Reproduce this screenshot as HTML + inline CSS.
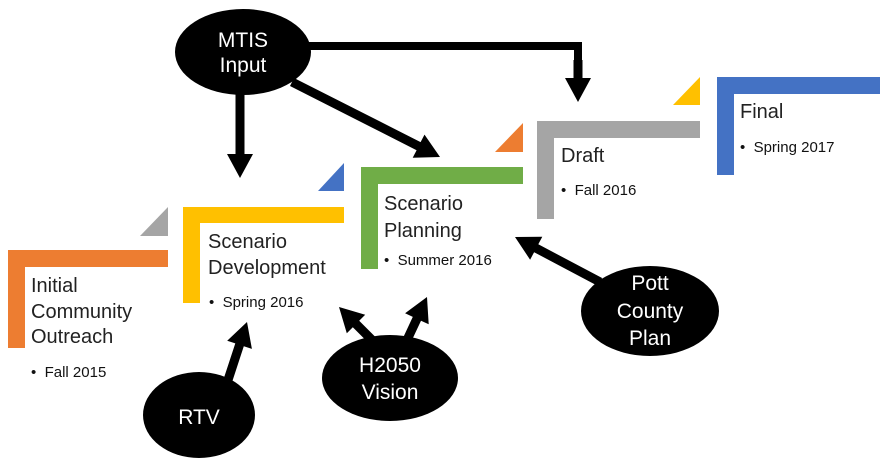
<!DOCTYPE html>
<html><head><meta charset="utf-8"><style>
html,body{margin:0;padding:0;background:#fff;}
svg{display:block;}
.t{font-family:"Liberation Sans",sans-serif;font-size:20px;fill:#222;}
.b{font-family:"Liberation Sans",sans-serif;font-size:15px;fill:#111;}
.w{font-family:"Liberation Sans",sans-serif;font-size:21px;fill:#fff;text-anchor:middle;}
</style></head><body>
<svg id="s" width="880" height="465" viewBox="0 0 880 465" xmlns="http://www.w3.org/2000/svg">
<path d="M8,250 H168 V267 H25 V348 H8 z" fill="#ED7D31"/>
<path d="M168,207 V236 H140 z" fill="#A5A5A5"/>
<path d="M183,207 H344 V223 H200 V303 H183 z" fill="#FFC000"/>
<path d="M344,163 V191 H318 z" fill="#4472C4"/>
<path d="M361,167 H523 V184 H378 V269 H361 z" fill="#70AD47"/>
<path d="M523,123 V152 H495 z" fill="#ED7D31"/>
<path d="M537,121 H700 V138 H554 V219 H537 z" fill="#A5A5A5"/>
<path d="M700,77 V105 H673 z" fill="#FFC000"/>
<path d="M717,77 H880 V94 H734 V175 H717 z" fill="#4472C4"/>

<text class="t" x="31" y="292">Initial</text>
<text class="t" x="31" y="318">Community</text>
<text class="t" x="31" y="343">Outreach</text>
<text class="b" x="31" y="377">•&#160;&#160;Fall 2015</text>

<text class="t" x="208" y="248">Scenario</text>
<text class="t" x="208" y="274">Development</text>
<text class="b" x="209" y="307">•&#160;&#160;Spring 2016</text>

<text class="t" x="384" y="210">Scenario</text>
<text class="t" x="384" y="237">Planning</text>
<text class="b" x="384" y="265">•&#160;&#160;Summer 2016</text>

<text class="t" x="561" y="162">Draft</text>
<text class="b" x="561" y="195">•&#160;&#160;Fall 2016</text>

<text class="t" x="740" y="118">Final</text>
<text class="b" x="740" y="152">•&#160;&#160;Spring 2017</text>

<g id="arrows" fill="#000">
<polyline points="305,46 578,46 578,80" stroke="#000" stroke-width="8" fill="none"/>
</g>

<ellipse cx="243" cy="52" rx="68" ry="43" fill="#000"/>
<text class="w" x="243" y="47">MTIS</text>
<text class="w" x="243" y="72">Input</text>

<ellipse cx="199" cy="415" rx="56" ry="43" fill="#000"/>
<text class="w" x="199" y="424">RTV</text>

<ellipse cx="390" cy="378" rx="68" ry="43" fill="#000"/>
<text class="w" x="390" y="372">H2050</text>
<text class="w" x="390" y="399">Vision</text>

<ellipse cx="650" cy="311" rx="69" ry="45" fill="#000"/>
<text class="w" x="650" y="290">Pott</text>
<text class="w" x="650" y="318">County</text>
<text class="w" x="650" y="345">Plan</text>
</svg>
<script>
(function(){
var g=document.getElementById('arrows');
var A=[[240,90,240,178],[578,60,578,102],[292,82,440,157],[228,380,247,322],[372,340,339,307],[407,340,427,297],[600,282,515,237]];
var L=24,H=13,W=4.5;
A.forEach(function(a){
var dx=a[2]-a[0],dy=a[3]-a[1],d=Math.sqrt(dx*dx+dy*dy),ux=dx/d,uy=dy/d,px=-uy,py=ux;
var bx=a[2]-ux*L,by=a[3]-uy*L;
var pts=[[a[0]+px*W,a[1]+py*W],[bx+px*W,by+py*W],[bx+px*H,by+py*H],[a[2],a[3]],[bx-px*H,by-py*H],[bx-px*W,by-py*W],[a[0]-px*W,a[1]-py*W]];
var p=document.createElementNS('http://www.w3.org/2000/svg','polygon');
p.setAttribute('points',pts.map(function(q){return q[0].toFixed(1)+','+q[1].toFixed(1)}).join(' '));
g.appendChild(p);
});
})();
</script>
</body></html>
